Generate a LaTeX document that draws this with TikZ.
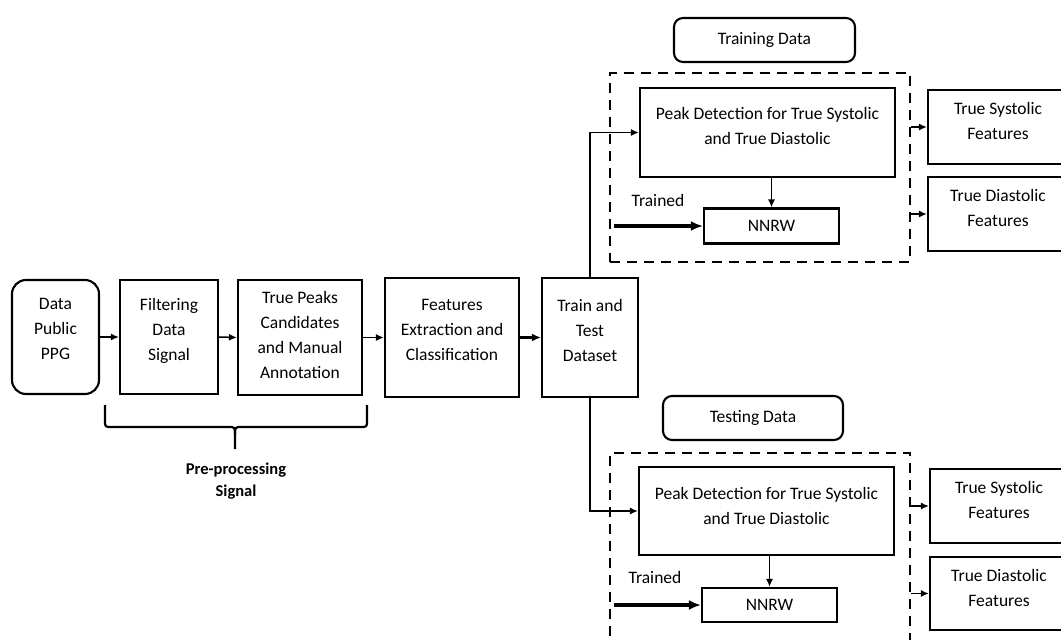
\documentclass[tikz,border=0pt]{standalone}
\usepackage{fontspec}
\setmainfont{Carlito}
\usetikzlibrary{arrows.meta}
\begin{document}
\begin{tikzpicture}[x=1pt,y=-1pt,
  every node/.style={font=\fontsize{17.5}{25}\selectfont, align=center, inner sep=0pt},
  box/.style={draw, line width=2.1pt, rectangle},
  rbox/.style={draw, line width=2.1pt, rectangle, rounded corners=#1},
  dbox/.style={draw, line width=2.4pt, dash pattern=on 10pt off 7pt},
  lift/.style={text depth=#1},
  thin/.style={line width=1.5pt, -{Latex[length=8pt,width=7pt]}},
  thick/.style={line width=3.2pt, -{Latex[length=12pt,width=10pt]}},
  link/.style={line width=1.5pt}
]
\clip (0,0) rectangle (1061,640);
\fill[white] (0,0) rectangle (1061,640);

% main chain
\node[rbox=14pt, minimum width=87pt, minimum height=114pt, lift=16pt] (data) at (55.5,337) {Data\\Public\\PPG};
\node[box, minimum width=98pt, minimum height=114pt, lift=16pt] (filt) at (169,337) {Filtering\\Data\\Signal};
\node[box, minimum width=124pt, minimum height=115pt, lift=6pt] (peaks) at (300,337.5) {True Peaks\\Candidates\\and Manual\\Annotation};
\node[box, minimum width=134pt, minimum height=119pt, lift=16pt] (feat) at (452,337.5) {Features\\Extraction and\\Classification};
\node[box, minimum width=96pt, minimum height=119pt, lift=14pt] (train) at (590,337.5) {Train and\\Test\\Dataset};

\draw[thin] (data.east) -- (filt.west);
\draw[thin] (filt.east) -- (peaks.west);
\draw[thin] (peaks.east) -- (feat.west);
\draw[line width=3pt, -{Latex[length=9pt,width=8pt]}] (feat.east) -- (train.west);

% brace
\draw[line width=2.2pt] (105,405) -- (105,420) .. controls (105,427) .. (112,427) -- (228,427) .. controls (235,427) .. (235,435) -- (235,449);
\draw[line width=2.2pt] (367,405) -- (367,420) .. controls (367,427) .. (360,427) -- (242,427) .. controls (235,427) .. (235,435);
\node[font=\bfseries\fontsize{16.5}{22}\selectfont] (pre) at (236,481) {Pre-processing\\Signal};

% training branch
\node[rbox=9pt, minimum width=181pt, minimum height=44pt] (tdata) at (764.5,40) {Training Data};
\node[dbox, minimum width=300pt, minimum height=189pt] (dash1) at (760,167.5) {};
\node[box, minimum width=255pt, minimum height=89pt, lift=14pt] (peak1) at (767.5,132.5) {Peak Detection for True Systolic\\and True Diastolic};
\node[box, minimum width=135pt, minimum height=35pt] (nnrw1) at (771.5,226) {NNRW};
\node (tr1) at (658,200) {Trained};
\node[box, minimum width=140pt, minimum height=74pt, lift=12pt] (sys1) at (998,127) {True Systolic\\Features};
\node[box, minimum width=140pt, minimum height=74pt, lift=12pt] (dia1) at (998,214) {True Diastolic\\Features};
\coordinate (in1) at (614,229);

\draw[thin] (train.north) |- (peak1.west);
\draw[thin] (peak1.south -| nnrw1.north) -- (nnrw1.north);
\draw[thick] (in1 |- nnrw1.west) -- (nnrw1.west);
\draw[thin] (dash1.east |- sys1.west) -- (sys1.west);
\draw[thin] (dash1.east |- dia1.west) -- (dia1.west);

% testing branch
\node[rbox=9pt, minimum width=180pt, minimum height=44pt] (testd) at (753,418) {Testing Data};
\node[dbox, minimum width=300pt, minimum height=247pt] (dash2) at (760,576.5) {};
\node[box, minimum width=255pt, minimum height=88pt, lift=11pt] (peak2) at (766.5,511) {Peak Detection for True Systolic\\and True Diastolic};
\node[box, minimum width=135pt, minimum height=34pt] (nnrw2) at (769.5,605) {NNRW};
\node (tr2) at (655,577) {Trained};
\node[box, minimum width=138pt, minimum height=74pt, lift=12pt] (sys2) at (999,506) {True Systolic\\Features};
\node[box, minimum width=138pt, minimum height=73pt, lift=12pt] (dia2) at (999,593.5) {True Diastolic\\Features};
\coordinate (in2) at (614,608);

\draw[thin] (train.south) |- (peak2.west);
\draw[thin] (peak2.south -| nnrw2.north) -- (nnrw2.north);
\draw[thick] (in2 |- nnrw2.west) -- (nnrw2.west);
\draw[thin] (dash2.east |- sys2.west) -- (sys2.west);
\draw[thin] (dash2.east |- dia2.west) -- (dia2.west);
\end{tikzpicture}
\end{document}
